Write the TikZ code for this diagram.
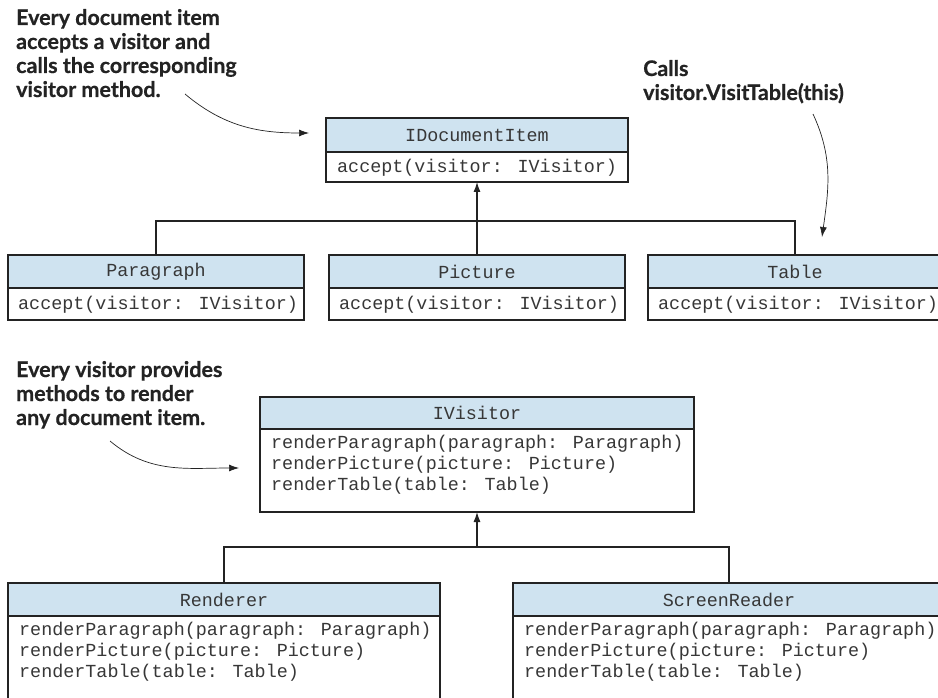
\documentclass[tikz,border=0pt]{standalone}
\usepackage{fontspec}
\setmainfont{Lato}[BoldFeatures={FakeBold=0.6}]
\newfontfamily\codefont{Liberation Mono}
\usetikzlibrary{arrows.meta}
\definecolor{hdrblue}{RGB}{207,227,240}
\definecolor{ink}{RGB}{35,35,35}
\definecolor{codeink}{RGB}{55,55,55}
\begin{document}
\begin{tikzpicture}[x=1pt,y=1pt,
  boxline/.style={draw=ink, line width=1.1pt, inner sep=0pt, outer sep=0pt, anchor=north west},
  headbox/.style={boxline, fill=hdrblue, font=\codefont\fontsize{18.4}{21}\selectfont, text=codeink},
  bodybox/.style={boxline, fill=white},
  codeline/.style={inner sep=0pt, anchor=base west, text=codeink, font=\codefont\fontsize{18.4}{21}\selectfont},
  conn/.style={draw=ink, line width=1.1pt},
  inherit/.style={conn, -{Latex[length=10pt,width=7pt]}},
  note/.style={inner sep=0pt, anchor=base west, align=left, text=ink, font=\bfseries\fontsize{21.5}{24}\selectfont},
  notearrow/.style={draw=ink, line width=0.7pt, -{Latex[length=10pt,width=7pt]}}
]
\useasboundingbox (0,0) rectangle (938,-698);
\clip (0,0) rectangle (938,-698);

% ---- document item hierarchy ----
\node[headbox, minimum width=302, minimum height=34] (idoc-h) at (326,-118) {IDocumentItem};
\node[bodybox, minimum width=302, minimum height=30, anchor=north] (idoc-b) at (idoc-h.south) {};
\node[codeline] (idoc-m1) at ([xshift=11,yshift=-21]idoc-b.north west) {accept(visitor: IVisitor)};

\node[headbox, minimum width=296, minimum height=33] (para-h) at (8,-255) {Paragraph};
\node[bodybox, minimum width=296, minimum height=32, anchor=north] (para-b) at (para-h.south) {};
\node[codeline] (para-m1) at ([xshift=10,yshift=-21]para-b.north west) {accept(visitor: IVisitor)};

\node[headbox, minimum width=296, minimum height=33] (pic-h) at (329,-255) {Picture};
\node[bodybox, minimum width=296, minimum height=32, anchor=north] (pic-b) at (pic-h.south) {};
\node[codeline] (pic-m1) at ([xshift=10,yshift=-21]pic-b.north west) {accept(visitor: IVisitor)};

\node[headbox, minimum width=294, minimum height=33] (tbl-h) at (648,-255) {Table};
\node[bodybox, minimum width=294, minimum height=32, anchor=north] (tbl-b) at (tbl-h.south) {};
\node[codeline] (tbl-m1) at ([xshift=10,yshift=-21]tbl-b.north west) {accept(visitor: IVisitor)};

\coordinate (bar1) at (477,-221);
\draw[conn] (para-h.north) |- (bar1) -| (tbl-h.north);
\draw[inherit] (pic-h.north) -- (idoc-b.south);

% ---- visitor hierarchy ----
\node[headbox, minimum width=434, minimum height=32] (vis-h) at (260,-397) {IVisitor};
\node[bodybox, minimum width=434, minimum height=83, anchor=north] (vis-b) at (vis-h.south) {};
\node[codeline] (vis-m1) at ([xshift=11,yshift=-19]vis-b.north west) {renderParagraph(paragraph: Paragraph)};
\node[codeline] (vis-m2) at ([yshift=-21]vis-m1.base west) {renderPicture(picture: Picture)};
\node[codeline] (vis-m3) at ([yshift=-21]vis-m2.base west) {renderTable(table: Table)};

\node[headbox, minimum width=432, minimum height=33] (rend-h) at (8,-583) {Renderer};
\node[bodybox, minimum width=432, minimum height=120, anchor=north] (rend-b) at (rend-h.south) {};
\node[codeline] (rend-m1) at ([xshift=11,yshift=-19]rend-b.north west) {renderParagraph(paragraph: Paragraph)};
\node[codeline] (rend-m2) at ([yshift=-21]rend-m1.base west) {renderPicture(picture: Picture)};
\node[codeline] (rend-m3) at ([yshift=-21]rend-m2.base west) {renderTable(table: Table)};

\node[headbox, minimum width=432, minimum height=33] (scr-h) at (513,-583) {ScreenReader};
\node[bodybox, minimum width=432, minimum height=120, anchor=north] (scr-b) at (scr-h.south) {};
\node[codeline] (scr-m1) at ([xshift=11,yshift=-19]scr-b.north west) {renderParagraph(paragraph: Paragraph)};
\node[codeline] (scr-m2) at ([yshift=-21]scr-m1.base west) {renderPicture(picture: Picture)};
\node[codeline] (scr-m3) at ([yshift=-21]scr-m2.base west) {renderTable(table: Table)};

\coordinate (bar2) at (477,-547);
\draw[conn] (rend-h.north) |- (bar2) -| (scr-h.north);
\draw[inherit] (bar2) -- (vis-b.south);

% ---- annotations (anchored on the baseline of their last line) ----
\node[note] (note-accept) at (16,-97) {Every document item\\accepts a visitor and\\calls the corresponding\\visitor method.};
\coordinate (na-start) at (185,-94);
\coordinate (na-end) at (309,-133);
\draw[notearrow] (na-start) to[out=-40,in=180] (na-end);

\node[note] (note-calls) at (643,-100) {Calls\\visitor.VisitTable(this)};
\coordinate (nc-start) at (813,-114);
\coordinate (nc-end) at (822,-237);
\draw[notearrow] (nc-start) to[out=-65,in=82] (nc-end);

\node[note] (note-visitor) at (16,-425) {Every visitor provides\\methods to render\\any document item.};
\coordinate (nv-start) at (110,-441);
\coordinate (nv-end) at (239,-468);
\draw[notearrow] (nv-start) to[out=-40,in=180] (nv-end);
\end{tikzpicture}
\end{document}
